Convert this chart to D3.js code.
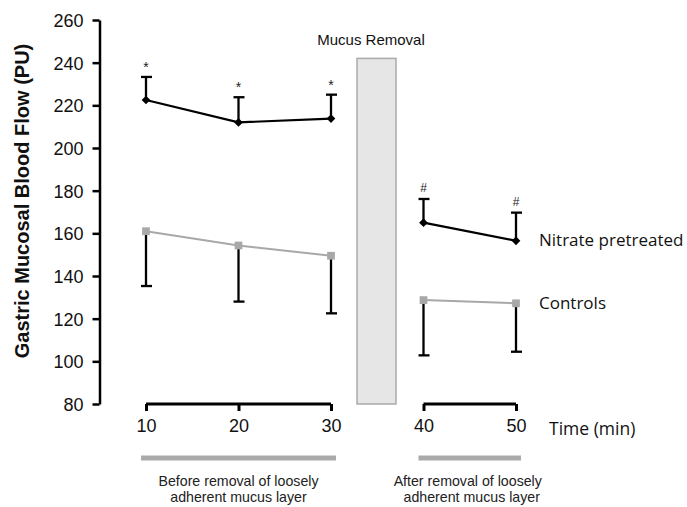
<!DOCTYPE html>
<html><head><meta charset="utf-8">
<script src="https://cdn.jsdelivr.net/npm/d3@7"></script>
<style>body{margin:0;background:#fff}svg{display:block}</style>
</head><body>
<svg id="c" width="687" height="507"></svg>
<script>
const timesBefore = [10, 20, 30];
const timesAfter = [40, 50];
const nitrateBefore = [222.5, 212, 213.8];
const nitrateBeforeErr = [10.8, 11.8, 11.2];
const nitrateAfter = [165, 156.5];
const nitrateAfterErr = [11.1, 13.2];
const controlsBefore = [161, 154.3, 149.5];
const controlsBeforeErr = [25.7, 26.3, 27];
const controlsAfter = [128.7, 127.2];
const controlsAfterErr = [25.9, 22.7];
const yTicks = [80, 100, 120, 140, 160, 180, 200, 220, 240, 260];
const markNitrate = ["*", "*", "*", "#", "#"];

const svg = d3.select("#c");
const x = d3.scaleLinear().domain([10, 50]).range([146, 516]);
const y = d3.scaleLinear().domain([80, 260]).range([404, 20]);
const sans = "'Liberation Sans', Arial, sans-serif";
const myr = "'Open Sans', sans-serif";

// Y axis
const ya = svg.append("g").attr("transform", "translate(99.5,0)")
  .call(d3.axisLeft(y).tickValues(yTicks).tickSize(7).tickPadding(9).tickSizeOuter(0));
ya.select(".domain").attr("stroke", "#000").attr("stroke-width", 2.5);
ya.selectAll(".tick line").attr("stroke", "#000").attr("stroke-width", 2.5);
ya.selectAll(".tick text").attr("font-family", sans).attr("font-size", 18).attr("fill", "#111").attr("dy", "0.36em");

svg.append("text").attr("transform", "translate(29,201) rotate(-90)")
  .attr("text-anchor", "middle").attr("font-family", sans).attr("font-weight", "bold")
  .attr("font-size", 20).attr("fill", "#111").text("Gastric Mucosal Blood Flow  (PU)");

// X axes (two segments)
function xaxis(ticks) {
  const g = svg.append("g").attr("transform", "translate(0,404)")
    .call(d3.axisBottom(x).tickValues(ticks).tickSize(7).tickPadding(8).tickSizeOuter(0).tickFormat(d3.format("d")));
  g.select(".domain").attr("d", `M${x(ticks[0])},0H${x(ticks[ticks.length-1])}`)
    .attr("stroke", "#000").attr("stroke-width", 3);
  g.selectAll(".tick line").attr("stroke", "#000").attr("stroke-width", 3);
  g.selectAll(".tick text").attr("font-family", sans).attr("font-size", 18).attr("fill", "#111");
}
xaxis(timesBefore);
xaxis(timesAfter);

svg.append("text").attr("x", 549).attr("y", 435).attr("font-family", myr).attr("font-size", 17.5)
  .attr("fill", "#111").text("Time (min)");

// gray period bars
svg.append("line").attr("x1", x(10) - 5).attr("x2", x(30) + 5).attr("y1", 458).attr("y2", 458)
  .attr("stroke", "#aaa").attr("stroke-width", 5);
svg.append("line").attr("x1", x(40) - 5).attr("x2", x(50) + 5).attr("y1", 458).attr("y2", 458)
  .attr("stroke", "#aaa").attr("stroke-width", 5);
const per = [
  {cx: x(20), lines: ["Before removal of loosely", "adherent mucus layer"], dx2: 0},
  {cx: x(45) - 2, lines: ["After removal of loosely", "adherent mucus layer"], dx2: 4}
];
per.forEach(p => {
  const t = svg.append("text").attr("text-anchor", "middle").attr("font-family", sans)
    .attr("font-size", 14.2).attr("fill", "#222");
  p.lines.forEach((s, i) => t.append("tspan").attr("x", p.cx + (i ? p.dx2 : 0)).attr("y", 485.5 + i * 16.2).text(s));
});

// Mucus removal box
svg.append("rect").attr("x", 357).attr("y", y(242)).attr("width", 39).attr("height", y(80) - y(242))
  .attr("fill", "#e6e6e6").attr("stroke", "#aaa").attr("stroke-width", 1.5);
svg.append("text").attr("x", 371).attr("y", 45).attr("text-anchor", "middle").attr("font-family", sans)
  .attr("font-size", 15).attr("fill", "#111").text("Mucus Removal");

// series
function series(times, vals, errs, up, color, lw, shape, marks) {
  const pts = times.map((t, i) => ({t, v: vals[i], e: errs[i]}));
  pts.forEach(p => {
    const yEnd = up ? y(p.v + p.e) : y(p.v - p.e);
    svg.append("line").attr("x1", x(p.t)).attr("x2", x(p.t)).attr("y1", y(p.v)).attr("y2", yEnd)
      .attr("stroke", "#000").attr("stroke-width", 2.3);
    svg.append("line").attr("x1", x(p.t) - 5).attr("x2", x(p.t) + 6).attr("y1", yEnd).attr("y2", yEnd)
      .attr("stroke", "#000").attr("stroke-width", 2.3);
  });
  svg.append("path").datum(pts).attr("fill", "none").attr("stroke", color).attr("stroke-width", lw)
    .attr("d", d3.line().x(d => x(d.t)).y(d => y(d.v)));
  svg.selectAll(null).data(pts).enter().append("path")
    .attr("transform", d => `translate(${x(d.t)},${y(d.v)})` + (shape === "d" ? " rotate(45)" : ""))
    .attr("d", d3.symbol().type(d3.symbolSquare).size(shape === "d" ? 38 : 60))
    .attr("fill", color);
  if (marks) {
    pts.forEach((p, i) => svg.append("text").attr("x", x(p.t)).attr("y", y(p.v + p.e) - (marks[i] === "*" ? 5 : 7))
      .attr("text-anchor", "middle").attr("font-family", sans).attr("font-size", marks[i] === "*" ? 14 : 12)
      .attr("fill", "#222").text(marks[i]));
  }
}
series(timesBefore, controlsBefore, controlsBeforeErr, false, "#a8a8a8", 2, "s");
series(timesAfter, controlsAfter, controlsAfterErr, false, "#a8a8a8", 2, "s");
series(timesBefore, nitrateBefore, nitrateBeforeErr, true, "#000", 2.2, "d", markNitrate.slice(0, 3));
series(timesAfter, nitrateAfter, nitrateAfterErr, true, "#000", 2.2, "d", markNitrate.slice(3));

svg.append("text").attr("x", 539).attr("y", 246).attr("font-family", myr).attr("font-size", 17)
  .attr("fill", "#111").text("Nitrate pretreated");
svg.append("text").attr("x", 539).attr("y", 309).attr("font-family", myr).attr("font-size", 17)
  .attr("fill", "#111").text("Controls");
</script>
</body></html>
